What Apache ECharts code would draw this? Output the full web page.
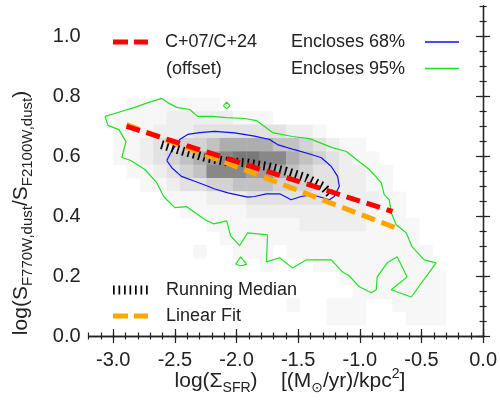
<!DOCTYPE html>
<html>
<head>
<meta charset="utf-8">
<script src="https://cdn.jsdelivr.net/npm/echarts@6/dist/echarts.min.js"></script>
<style>
html, body { margin: 0; padding: 0; background: #fff; }
#chart { width: 500px; height: 419px; }
</style>
</head>
<body>
<div id="chart"></div>
<script>
// tick labels
const xMajorTicks = [-3.0, -2.5, -2.0, -1.5, -1.0, -0.5, 0.0];
const yMajorTicks = [0.0, 0.2, 0.4, 0.6, 0.8, 1.0];

// 2d histogram: rows top -> bottom, one digit per bin (0 empty .. 9 densest)
const binX0 = -3.107, binW = 0.1078, binY0 = 0.794, binH = 0.04455;
const histRows = [
    '00111111100000000000000000',
    '01111222221110000000000000',
    '01112223333333221000000000',
    '01123344566665543211000000',
    '01123456789988654321100000',
    '00112345888776543322110000',
    '00011233445554443322110000',
    '00000111222333333222211000',
    '00000011111222222222111000',
    '00000000111111122222111100',
    '00000000011111111111111100',
    '00000001001110111111111110',
    '00000000000010001111111110',
    '00000000000000000011111111',
    '00000000000000000001111111',
    '00000000000000100111001111',
    '00000000000000000111000111',
];
const grayLevels = ['#ffffff', '#f7f7f7', '#eeeeee', '#e2e2e2', '#d3d3d3',
    '#c2c2c2', '#aeaeae', '#9b9b9b', '#888888', '#797979'];

// 95% contour (main outline + two small islands)
const contour95 = [
    [-3.067, 0.732], [-3.043, 0.702], [-2.954, 0.688], [-2.897, 0.648], [-2.930, 0.595],
    [-2.857, 0.585], [-2.744, 0.555], [-2.647, 0.511], [-2.590, 0.464], [-2.501, 0.428],
    [-2.404, 0.431], [-2.258, 0.388], [-2.185, 0.374], [-2.080, 0.384], [-2.048, 0.334],
    [-1.975, 0.301], [-1.910, 0.344], [-1.749, 0.337], [-1.757, 0.247], [-1.651, 0.261],
    [-1.546, 0.227], [-1.433, 0.254], [-1.231, 0.254], [-1.142, 0.214], [-1.085, 0.200],
    [-1.004, 0.164], [-0.907, 0.144], [-0.867, 0.154], [-0.859, 0.197], [-0.778, 0.244],
    [-0.697, 0.264], [-0.616, 0.197], [-0.745, 0.154], [-0.583, 0.130], [-0.381, 0.244],
    [-0.478, 0.254], [-0.575, 0.297], [-0.624, 0.344], [-0.705, 0.371], [-0.745, 0.411],
    [-0.761, 0.454], [-0.802, 0.471], [-0.826, 0.511], [-0.923, 0.555], [-1.004, 0.581],
    [-1.109, 0.615], [-1.223, 0.628], [-1.409, 0.658], [-1.546, 0.665], [-1.708, 0.678],
    [-1.838, 0.718], [-1.935, 0.725], [-2.080, 0.728], [-2.194, 0.732], [-2.315, 0.732],
    [-2.380, 0.755], [-2.485, 0.762], [-2.558, 0.778], [-2.606, 0.792], [-2.719, 0.778],
    [-2.825, 0.762], [-2.962, 0.745], [-3.067, 0.732],
];
const island95a = [[-2.107, 0.768], [-2.080, 0.779], [-2.053, 0.768], [-2.080, 0.757], [-2.107, 0.768]];
const island95b = [[-2.007, 0.239], [-1.967, 0.264], [-1.918, 0.239], [-1.967, 0.234], [-2.007, 0.239]];

// 68% contour
const contour68 = [
    [-2.566, 0.585], [-2.533, 0.611], [-2.461, 0.655], [-2.396, 0.672], [-2.299, 0.678],
    [-2.177, 0.682], [-2.016, 0.677], [-1.854, 0.666], [-1.732, 0.655], [-1.668, 0.638],
    [-1.530, 0.621], [-1.393, 0.605], [-1.312, 0.594], [-1.233, 0.566], [-1.180, 0.532],
    [-1.166, 0.499], [-1.207, 0.465], [-1.247, 0.454], [-1.385, 0.471], [-1.476, 0.465],
    [-1.557, 0.454], [-1.650, 0.474], [-1.759, 0.474], [-1.854, 0.465], [-1.908, 0.463],
    [-2.070, 0.477], [-2.177, 0.490], [-2.232, 0.499], [-2.339, 0.516], [-2.447, 0.532],
    [-2.525, 0.561], [-2.566, 0.585],
];

// running median
const medianX = [-2.609, -2.434, -2.244, -2.083, -1.921, -1.759, -1.597, -1.435, -1.301, -1.233];
const medianY = [0.638, 0.616, 0.594, 0.582, 0.577, 0.566, 0.549, 0.527, 0.499, 0.471];

// C+07/C+24 relation (offset) and linear fit
const relationX = [-2.892, -0.735];
const relationY = [0.699, 0.415];
const fitX = [-2.892, -0.707];
const fitY = [0.705, 0.360];

const heatData = [];
histRows.forEach((row, r) => {
    row.split('').forEach((ch, c) => {
        const v = +ch;
        if (v > 0) {
            heatData.push([binX0 + c * binW, binY0 - r * binH,
                binX0 + (c + 1) * binW, binY0 - (r + 1) * binH, v]);
        }
    });
});

const zip = (xs, ys) => xs.map((x, i) => [x, ys[i]]);

const FONT = "'Liberation Sans', Arial, 'DejaVu Sans', sans-serif";
const INK = '#222';

const frameLine = { show: true, lineStyle: { color: INK, width: 1.3 } };
const xBase = { type: 'value', min: -3.2, max: 0, splitLine: { show: false } };
const yBase = { type: 'value', min: 0, max: 1.1, splitLine: { show: false } };

const lineSeries = (data, color, width, z) => ({
    type: 'line',
    data: data,
    showSymbol: false,
    symbol: 'none',
    silent: true,
    z: z,
    lineStyle: { color: color, width: width },
});

const option = {
    animation: false,
    backgroundColor: '#fff',
    textStyle: { fontFamily: FONT },
    grid: { left: 88.6, right: 16, top: 6, bottom: 83 },
    xAxis: [
        Object.assign({}, xBase, {
            position: 'bottom',
            axisLine: frameLine,
            axisTick: { show: true, inside: true, length: 7, customValues: xMajorTicks, lineStyle: { color: INK, width: 1.2 } },
            axisLabel: { customValues: xMajorTicks, fontSize: 20, color: INK, margin: 14, formatter: (v) => v.toFixed(1) },
        }),
        Object.assign({}, xBase, {
            position: 'bottom', interval: 0.1,
            axisLine: { show: false },
            axisTick: { show: true, inside: true, length: 3.5, lineStyle: { color: INK, width: 1.2 } },
            axisLabel: { show: false },
        }),
        Object.assign({}, xBase, {
            position: 'top',
            axisLine: frameLine,
            axisTick: { show: true, inside: true, length: 7, customValues: xMajorTicks, lineStyle: { color: INK, width: 1.2 } },
            axisLabel: { show: false },
        }),
        Object.assign({}, xBase, {
            position: 'top', interval: 0.1,
            axisLine: { show: false },
            axisTick: { show: true, inside: true, length: 3.5, lineStyle: { color: INK, width: 1.2 } },
            axisLabel: { show: false },
        }),
    ],
    yAxis: [
        Object.assign({}, yBase, {
            position: 'left',
            axisLine: frameLine,
            axisTick: { show: true, inside: true, length: 7, customValues: yMajorTicks, lineStyle: { color: INK, width: 1.2 } },
            axisLabel: { customValues: yMajorTicks, fontSize: 20, color: INK, margin: 8, formatter: (v) => v.toFixed(1) },
        }),
        Object.assign({}, yBase, {
            position: 'left', interval: 0.05,
            axisLine: { show: false },
            axisTick: { show: true, inside: true, length: 3.5, lineStyle: { color: INK, width: 1.2 } },
            axisLabel: { show: false },
        }),
        Object.assign({}, yBase, {
            position: 'right',
            axisLine: frameLine,
            axisTick: { show: true, inside: true, length: 7, customValues: yMajorTicks, lineStyle: { color: INK, width: 1.2 } },
            axisLabel: { show: false },
        }),
        Object.assign({}, yBase, {
            position: 'right', interval: 0.05,
            axisLine: { show: false },
            axisTick: { show: true, inside: true, length: 3.5, lineStyle: { color: INK, width: 1.2 } },
            axisLabel: { show: false },
        }),
    ],
    series: [
        {
            type: 'custom',
            silent: true,
            z: 1,
            clip: true,
            data: heatData,
            encode: { x: [0, 2], y: [1, 3] },
            renderItem: (params, api) => {
                const p0 = api.coord([api.value(0), api.value(1)]);
                const p1 = api.coord([api.value(2), api.value(3)]);
                return {
                    type: 'rect',
                    shape: { x: p0[0], y: p0[1], width: p1[0] - p0[0] + 0.4, height: p1[1] - p0[1] + 0.4 },
                    style: { fill: grayLevels[api.value(4)] },
                };
            },
        },
        lineSeries(contour95, '#22e022', 1.2, 3),
        lineSeries(island95a, '#22e022', 1.2, 3),
        lineSeries(island95b, '#22e022', 1.2, 3),
        lineSeries(contour68, '#1010f0', 1.2, 3),
        {
            type: 'line',
            data: zip(medianX, medianY),
            showSymbol: false,
            symbol: 'none',
            silent: true,
            z: 4,
            lineStyle: { color: '#000', width: 9, type: [1.7, 3.8] },
        },
        {
            type: 'line',
            data: zip(fitX, fitY),
            showSymbol: false,
            symbol: 'none',
            silent: true,
            z: 5,
            lineStyle: { color: '#ffa500', width: 5, type: [14, 7] },
        },
        {
            type: 'line',
            data: zip(relationX, relationY),
            showSymbol: false,
            symbol: 'none',
            silent: true,
            z: 6,
            lineStyle: { color: '#ff0000', width: 5, type: [14, 7] },
        },
    ],
    graphic: [
        // legend, upper block
        { type: 'line', shape: { x1: 113, y1: 42, x2: 148, y2: 42 }, style: { stroke: '#ff0000', lineWidth: 5, lineDash: [15, 6] } },
        { type: 'text', x: 165, y: 42, style: { text: 'C+07/C+24', font: '18px ' + FONT, fill: INK, verticalAlign: 'middle' } },
        { type: 'text', x: 166, y: 69, style: { text: '(offset)', font: '18px ' + FONT, fill: INK, verticalAlign: 'middle' } },
        { type: 'text', x: 291, y: 42, style: { text: 'Encloses 68%', font: '18px ' + FONT, fill: INK, verticalAlign: 'middle' } },
        { type: 'text', x: 291, y: 69, style: { text: 'Encloses 95%', font: '18px ' + FONT, fill: INK, verticalAlign: 'middle' } },
        { type: 'line', shape: { x1: 425, y1: 42, x2: 459, y2: 42 }, style: { stroke: '#1010f0', lineWidth: 1.5 } },
        { type: 'line', shape: { x1: 425, y1: 68.5, x2: 459, y2: 68.5 }, style: { stroke: '#22e022', lineWidth: 1.5 } },
        // legend, lower block
        { type: 'line', shape: { x1: 113, y1: 290, x2: 148, y2: 290 }, style: { stroke: '#000', lineWidth: 9, lineDash: [1.7, 3.8] } },
        { type: 'text', x: 166, y: 290, style: { text: 'Running Median', font: '18px ' + FONT, fill: INK, verticalAlign: 'middle' } },
        { type: 'line', shape: { x1: 113, y1: 316, x2: 148, y2: 316 }, style: { stroke: '#ffa500', lineWidth: 5, lineDash: [15, 6] } },
        { type: 'text', x: 166, y: 316, style: { text: 'Linear Fit', font: '18px ' + FONT, fill: INK, verticalAlign: 'middle' } },
        // axis titles
        {
            type: 'text', x: 290, y: 381,
            style: {
                text: '{n|log(Σ}{s|SFR}{n|)    [(M}{s|⊙}{n|/yr)/kpc}{p|2}{n|]}',
                align: 'center', verticalAlign: 'middle', fill: INK,
                rich: {
                    n: { fontSize: 21, lineHeight: 28, fontFamily: FONT, fill: INK },
                    s: { fontSize: 14, lineHeight: 14, verticalAlign: 'bottom', fontFamily: FONT, fill: INK },
                    p: { fontSize: 14, lineHeight: 14, verticalAlign: 'top', fontFamily: FONT, fill: INK },
                },
            },
        },
        {
            type: 'text', x: 21, y: 213, rotation: Math.PI / 2,
            style: {
                text: '{n|log(S}{s|F770W,dust}{n|/S}{s|F2100W,dust}{n|)}',
                align: 'center', verticalAlign: 'middle', fill: INK,
                rich: {
                    n: { fontSize: 21, lineHeight: 28, fontFamily: FONT, fill: INK },
                    s: { fontSize: 15, lineHeight: 15, verticalAlign: 'bottom', fontFamily: FONT, fill: INK },
                },
            },
        },
    ],
};

const myChart = echarts.init(document.getElementById('chart'), null, { renderer: 'canvas' });
myChart.setOption(option);
</script>
</body>
</html>
